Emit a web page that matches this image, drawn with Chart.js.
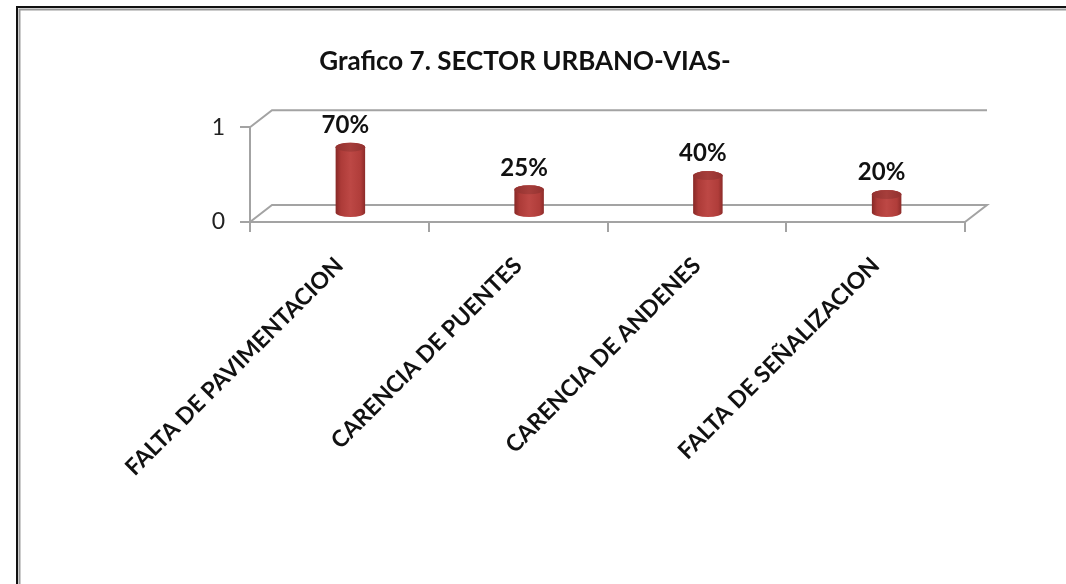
<!DOCTYPE html>
<html>
<head>
<meta charset="utf-8">
<script src="https://cdn.jsdelivr.net/npm/chart.js@4/dist/chart.umd.min.js"></script>
<style>
  html, body { margin: 0; padding: 0; background: #fff; }
  #wrap { width: 1066px; height: 584px; position: relative; }
</style>
</head>
<body>
<div id="wrap"><canvas id="chart" width="1066" height="584"></canvas></div>
<script>
const titleText = 'Grafico 7. SECTOR URBANO-VIAS-';
const categories = ['FALTA DE PAVIMENTACION', 'CARENCIA DE PUENTES', 'CARENCIA DE ANDENES', 'FALTA DE SEÑALIZACION'];
const values = [0.70, 0.25, 0.40, 0.20];
const valueLabels = ['70%', '25%', '40%', '20%'];
const yMin = 0;
const yMax = 1;

// depth of the 3d floor, back wall sits at (depthX, -depthY) from the front
const depthX = 22;
const depthY = 17;
const wallColour = '#a3a3a3';
const fontFamily = 'Lato, "Open Sans", sans-serif';

// page frame, like the cut out picture
const framePlugin = {
    id: 'frame',
    beforeDraw(chart) {
        const ctx = chart.ctx;
        ctx.save();
        ctx.fillStyle = '#fff';
        ctx.fillRect(0, 0, chart.width, chart.height);
        ctx.lineWidth = 2;
        ctx.strokeStyle = '#111';
        ctx.beginPath();
        ctx.moveTo(17, chart.height);
        ctx.lineTo(17, 7);
        ctx.lineTo(chart.width, 7);
        ctx.stroke();
        ctx.strokeStyle = '#9a9a9a';
        ctx.beginPath();
        ctx.moveTo(19.5, chart.height);
        ctx.lineTo(19.5, 9.5);
        ctx.lineTo(chart.width, 9.5);
        ctx.stroke();
        ctx.restore();
    }
};

// back wall and floor lines
const wallPlugin = {
    id: 'wall',
    beforeDatasetsDraw(chart) {
        const ctx = chart.ctx;
        const y = chart.scales.y;
        const L = chart.chartArea.left;
        const R = chart.chartArea.right;
        const y0 = y.getPixelForValue(yMin);
        const y1 = y.getPixelForValue(yMax);

        ctx.save();
        ctx.strokeStyle = wallColour;
        ctx.lineWidth = 2;
        ctx.beginPath();
        ctx.moveTo(L, y0);
        ctx.lineTo(L + depthX, y0 - depthY);
        ctx.lineTo(R + depthX, y0 - depthY);
        ctx.lineTo(R, y0);
        ctx.moveTo(L, y1);
        ctx.lineTo(L + depthX, y1 - depthY);
        ctx.lineTo(R + depthX, y1 - depthY);
        ctx.stroke();
        ctx.restore();
    }
};

// cylinders, placed half way into the depth
const cylinderPlugin = {
    id: 'cylinders',
    afterDatasetsDraw(chart) {
        const ctx = chart.ctx;
        const meta = chart.getDatasetMeta(0);
        const dx = depthX / 2;
        const dy = depthY / 2;

        ctx.save();
        meta.data.forEach((bar, i) => {
            const cx = bar.x + dx;
            const top = bar.y - dy;
            const base = bar.base - dy;
            const rx = bar.width / 2;
            const ry = 4.5;

            let body = ctx.createLinearGradient(cx - rx, 0, cx + rx, 0);
            body.addColorStop(0, '#872826');
            body.addColorStop(0.18, '#ad3b38');
            body.addColorStop(0.5, '#bd4845');
            body.addColorStop(0.85, '#b03d3a');
            body.addColorStop(1, '#8c2b29');

            ctx.beginPath();
            ctx.moveTo(cx - rx, top);
            ctx.lineTo(cx - rx, base);
            ctx.ellipse(cx, base, rx, ry, 0, Math.PI, 0, true);
            ctx.lineTo(cx + rx, top);
            ctx.ellipse(cx, top, rx, ry, 0, 0, Math.PI, true);
            ctx.closePath();
            ctx.fillStyle = body;
            ctx.fill();

            let cap = ctx.createLinearGradient(cx - rx, 0, cx + rx, 0);
            cap.addColorStop(0, '#93312f');
            cap.addColorStop(0.5, '#a63e3b');
            cap.addColorStop(1, '#93312f');
            ctx.beginPath();
            ctx.ellipse(cx, top, rx, ry, 0, 0, Math.PI * 2);
            ctx.fillStyle = cap;
            ctx.fill();

            ctx.fillStyle = '#111';
            ctx.font = 'bold 24px ' + fontFamily;
            ctx.textAlign = 'center';
            ctx.textBaseline = 'middle';
            ctx.fillText(valueLabels[i], cx - 5, top - 22);
        });
        ctx.restore();
    }
};

function renderChart() {
    const chart = document.getElementById('chart');
    let ctx = chart.getContext('2d');

    new Chart(ctx, {
        type: 'bar',
        data: {
            labels: categories,
            datasets: [{
                label: titleText,
                data: values,
                backgroundColor: 'rgba(0,0,0,0)',
                borderWidth: 0,
                categoryPercentage: 1,
                barPercentage: 0.165
            }]
        },
        plugins: [framePlugin, wallPlugin, cylinderPlugin],
        options: {
            responsive: false,
            animation: false,
            layout: {
                padding: { left: 85, right: 101, top: 0, bottom: 0 }
            },
            plugins: {
                legend: { display: false },
                tooltip: { enabled: false },
                title: {
                    display: true,
                    text: titleText,
                    color: '#111',
                    font: { family: fontFamily, size: 26, weight: 'bold' },
                    padding: { top: 46, bottom: 50 }
                }
            },
            scales: {
                x: {
                    grid: {
                        drawOnChartArea: false,
                        offset: true,
                        tickLength: 10,
                        color: wallColour,
                        lineWidth: 2
                    },
                    border: { color: wallColour, width: 2 },
                    ticks: {
                        minRotation: 45,
                        maxRotation: 45,
                        autoSkip: false,
                        padding: 20,
                        color: '#111',
                        font: { family: fontFamily, size: 23, weight: 'bold' }
                    },
                    afterFit(scale) {
                        scale.height = 362;
                    }
                },
                y: {
                    min: yMin,
                    max: yMax,
                    grid: {
                        drawOnChartArea: false,
                        tickLength: 10,
                        color: wallColour,
                        lineWidth: 2
                    },
                    border: { color: wallColour, width: 2 },
                    ticks: {
                        stepSize: 1,
                        padding: 15,
                        color: '#222',
                        font: { family: fontFamily, size: 23 }
                    },
                    afterFit(scale) {
                        scale.width = 165;
                    }
                }
            }
        }
    });
}

renderChart();
</script>
</body>
</html>
